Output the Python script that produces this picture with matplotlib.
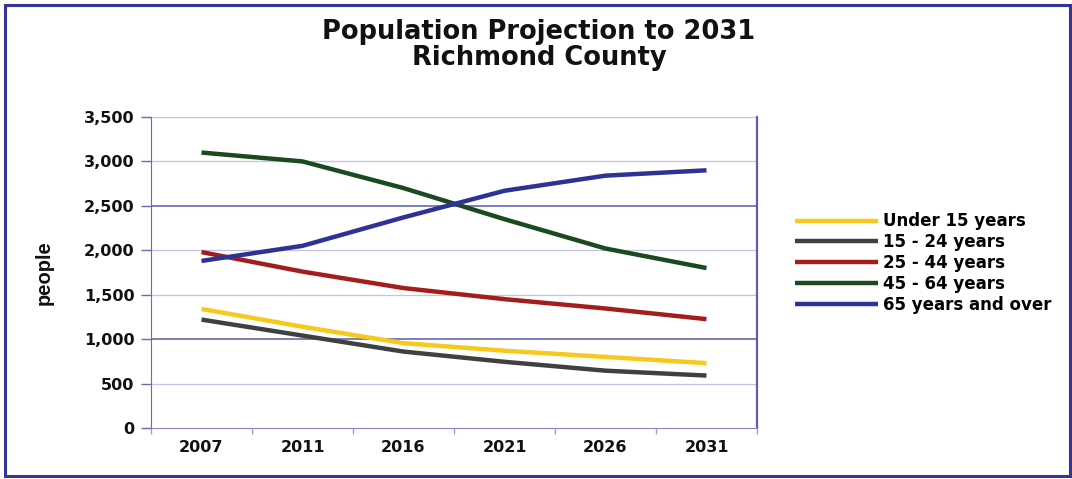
import matplotlib
matplotlib.use("Agg")
import matplotlib.pyplot as plt
from matplotlib.patches import Rectangle
from matplotlib.ticker import FuncFormatter, MultipleLocator, FixedLocator

years = ["2007", "2011", "2016", "2021", "2026", "2031"]
under_15 = [1340, 1140, 955, 870, 800, 730]
age_15_24 = [1220, 1040, 860, 745, 645, 590]
age_25_44 = [1980, 1760, 1575, 1450, 1345, 1225]
age_45_64 = [3100, 3000, 2700, 2350, 2020, 1800]
age_65_over = [1880, 2050, 2370, 2670, 2840, 2900]

series = [
    ("Under 15 years", under_15, "#f7c91c"),
    ("15 - 24 years", age_15_24, "#404040"),
    ("25 - 44 years", age_25_44, "#a41d1d"),
    ("45 - 64 years", age_45_64, "#1b4a1e"),
    ("65 years and over", age_65_over, "#2d3395"),
]

W, H = 1072, 479
fig = plt.figure(figsize=(W / 100, H / 100), dpi=100)
fig.patch.set_facecolor("white")

ax = fig.add_axes([151 / W, 1 - 428 / H, (757 - 151) / W, (428 - 117) / H])
x = list(range(len(years)))

# horizontal gridlines
for v in range(500, 3501, 500):
    strong = v in (1000, 2500)
    ax.axhline(v, color="#5a5aa8" if strong else "#c4c4e2",
               lw=1.1 if strong else 0.9, zorder=1)

for label, vals, color in series:
    ax.plot(x, vals, color=color, lw=3.2, label=label,
            solid_capstyle="butt", solid_joinstyle="round", zorder=3)

ax.set_xlim(-0.5, len(years) - 0.5)
ax.set_ylim(0, 3500)
ax.yaxis.set_major_locator(MultipleLocator(500))
ax.yaxis.set_major_formatter(FuncFormatter(lambda v, p: f"{int(v):,}"))
ax.set_xticks(x)
ax.set_xticklabels(years)
ax.xaxis.set_minor_locator(FixedLocator([i - 0.5 for i in range(len(years) + 1)]))

for lab in ax.get_yticklabels() + ax.get_xticklabels():
    lab.set_fontfamily("DejaVu Sans")
    lab.set_fontweight("bold")
    lab.set_fontsize(11.5)
    lab.set_color("#111111")

ax.tick_params(axis="y", direction="out", length=7, width=1, color="#6a6ab0", pad=5)
ax.tick_params(axis="x", which="major", length=0, pad=9)
ax.tick_params(axis="x", which="minor", direction="out", length=4, width=1, color="#a0a0cc")

ax.spines["top"].set_visible(False)
ax.spines["left"].set_color("#6a6ab0")
ax.spines["bottom"].set_color("#8888c4")
ax.spines["right"].set_color("#6060aa")
ax.spines["right"].set_linewidth(1.6)

ax.set_ylabel("people", family=["Liberation Sans Narrow", "Liberation Sans", "DejaVu Sans"],
              weight="bold", size=14.5, color="#111111")
ax.yaxis.set_label_coords((54 - 151) / (757 - 151), 0.5)

fig.text(539 / W, 1 - 45 / H, "Population Projection to 2031\nRichmond County",
         ha="center", va="center", family="DejaVu Sans", weight="bold",
         size=18.5, linespacing=1.0, color="#111111")

leg = fig.legend(loc="center left", bbox_to_anchor=(788 / W, 1 - 263 / H),
                 frameon=False, handlelength=5.0, handletextpad=0.3,
                 labelspacing=0.17, borderaxespad=0,
                 prop=dict(family="DejaVu Sans", weight="bold", size=12))
for line in leg.get_lines():
    line.set_linewidth(3.2)

fig.patches.append(Rectangle((5 / W, 3 / H), 1065 / W, 471 / H, transform=fig.transFigure,
                             fill=False, edgecolor="#34349a", lw=2.2))

fig.savefig("out.png", dpi=100)
